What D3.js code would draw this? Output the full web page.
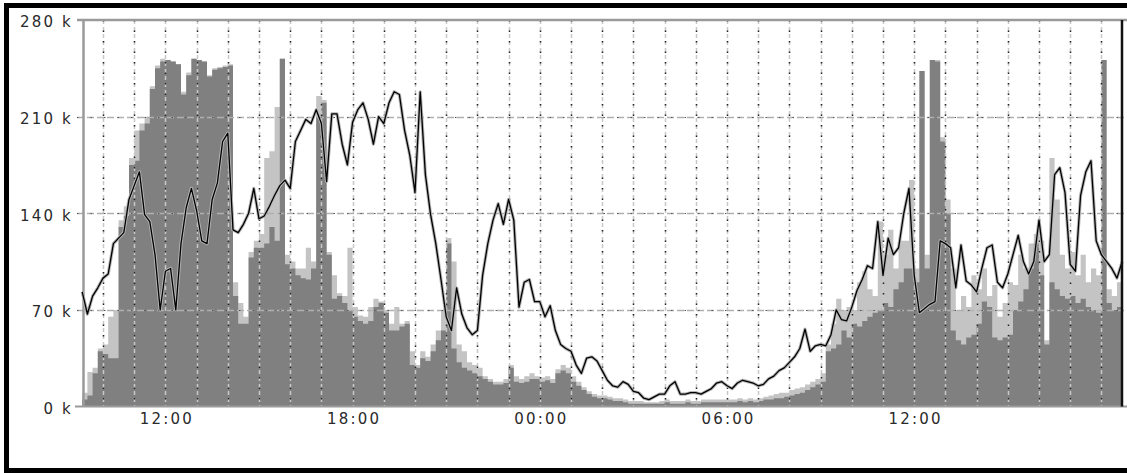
<!DOCTYPE html>
<html>
<head>
<meta charset="utf-8">
<script src="https://cdn.jsdelivr.net/npm/d3@7"></script>
<style>
  html, body { margin: 0; padding: 0; background: #fff; }
  svg { display: block; }
</style>
</head>
<body>
<svg id="chart" width="1127" height="473"></svg>
<script>
// 10-minute samples, starting 09:20 on the first day
const startTime = new Date(2000, 0, 1, 9, 20);
const stepMinutes = 10;

// incoming traffic (k), average per sample
const inTraffic = [
  5, 8, 24, 40, 38, 35, 35, 130, 138, 175,
  178, 200, 205, 230, 245, 250, 251, 250, 248, 226,
  240, 252, 251, 250, 239, 244, 245, 246, 247, 80,
  60, 60, 108, 115, 115, 118, 130, 120, 252, 103,
  100, 95, 93, 92, 100, 210, 220, 110, 78, 80,
  75, 70, 65, 62, 60, 62, 72, 75, 68, 55,
  55, 58, 60, 30, 28, 35, 33, 40, 48, 55,
  118, 42, 32, 28, 26, 24, 22, 20, 18, 16,
  16, 17, 28, 18, 17, 18, 20, 20, 18, 19,
  17, 24, 26, 24, 18, 15, 12, 9, 7, 6,
  6, 5, 4, 4, 3, 2, 2, 2, 2, 2,
  2, 2, 3, 2, 2, 2, 3, 2, 2, 3,
  3, 3, 3, 3, 3, 3, 4, 3, 4, 3,
  4, 5, 5, 6, 6, 7, 8, 9, 10, 12,
  14, 16, 18, 40, 42, 45, 55, 50, 60, 58,
  62, 65, 68, 70, 75, 72, 85, 90, 100, 100,
  90, 243, 100, 251, 250, 192, 140, 55, 48, 45,
  50, 52, 60, 76, 72, 50, 48, 50, 52, 70,
  76, 85, 100, 118, 95, 45, 90, 85, 80, 78,
  80, 75, 78, 72, 70, 68, 251, 75, 70, 72,
  50
];

// incoming traffic (k), peak per sample
const inPeak = [
  10, 25, 28, 42, 45, 65, 70, 135, 145, 180,
  200, 205, 210, 232, 247, 252, 251, 250, 248, 228,
  242, 252, 251, 250, 240, 245, 246, 247, 248, 90,
  75, 65, 112, 120, 125, 180, 185, 217, 252, 110,
  105, 100, 100, 115, 105, 225, 222, 112, 95, 82,
  80, 115, 72, 66, 65, 72, 78, 76, 70, 60,
  72, 60, 62, 40, 30, 40, 36, 45, 55, 70,
  122, 105, 45, 40, 32, 30, 28, 22, 20, 18,
  18, 20, 30, 22, 20, 22, 24, 22, 21, 22,
  20, 27, 30, 28, 22, 18, 14, 11, 9, 8,
  8, 7, 6, 6, 5, 4, 4, 4, 3, 3,
  3, 4, 5, 4, 4, 4, 5, 4, 4, 5,
  5, 5, 5, 5, 5, 5, 6, 5, 6, 5,
  6, 7, 8, 9, 10, 10, 12, 13, 14, 16,
  18, 20, 24, 45, 60, 78, 70, 72, 70, 90,
  98, 85, 80, 134, 110, 128, 100, 120, 120, 164,
  100, 243, 110, 251, 251, 195, 150, 100, 70, 80,
  72, 95, 85, 100, 80, 88, 65, 75, 90, 88,
  110, 100, 118, 125, 120, 48, 180, 150, 110, 100,
  112, 95, 110, 90, 100, 95, 251, 85, 80, 90,
  134
];

// outgoing traffic (k)
const outTraffic = [
  83, 67, 80, 86, 93, 96, 118, 122, 126, 150,
  160, 170, 139, 134, 110, 70, 98, 100, 70, 118,
  144, 158, 142, 120, 118, 150, 162, 192, 198, 128,
  126, 132, 140, 158, 136, 138, 145, 153, 160, 164,
  158, 192, 200, 208, 205, 215, 205, 163, 212, 212,
  190, 175, 206, 215, 220, 208, 190, 210, 205, 220,
  228, 226, 200, 182, 155, 228, 168, 139, 118, 92,
  65, 55, 86, 67, 57, 52, 55, 95, 118, 135,
  147, 132, 150, 135, 72, 90, 92, 76, 76, 65,
  73, 55, 45, 42, 40, 30, 24, 35, 36, 33,
  26, 19, 15, 14, 18, 16, 11, 10, 6, 5,
  7, 9, 9, 15, 18, 9, 9, 10, 10, 9,
  11, 13, 17, 18, 15, 13, 17, 19, 18, 17,
  15, 16, 20, 22, 26, 28, 32, 36, 42, 56,
  40, 44, 45, 44, 52, 70, 63, 62, 72, 84,
  92, 102, 100, 134, 95, 122, 110, 115, 140, 158,
  95, 68, 71, 74, 76, 120, 118, 115, 86, 117,
  91, 88, 83, 100, 115, 117, 90, 86, 96, 110,
  124, 105, 96, 105, 135, 105, 110, 168, 173, 155,
  103, 98, 153, 170, 178, 120, 110, 105, 100, 93,
  105
];

const yTickValues = [0, 70, 140, 210, 280];
const yTickLabels = ["0 k", "70 k", "140 k", "210 k", "280 k"];
const xTickHours = [12, 18, 24, 30, 36];          // hours after midnight of day one
const xTickLabels = ["12:00", "18:00", "00:00", "06:00", "12:00"];

const timeAt = i => new Date(startTime.getTime() + i * stepMinutes * 60000);
const rows = inTraffic.map((v, i) => ({
  t: timeAt(i), inAvg: v, inMax: inPeak[i], out: outTraffic[i]
}));

const svg = d3.select("#chart");
const plotLeft = 82.2, plotRight = 1122.2, plotTop = 20, plotBottom = 406.5;

const x = d3.scaleTime()
  .domain([rows[0].t, rows[rows.length - 1].t])
  .range([plotLeft, plotRight]);
const y = d3.scaleLinear().domain([0, 280]).range([plotBottom, plotTop]);

const fontFamily = "'DejaVu Sans', 'Liberation Sans', sans-serif";

// background
svg.append("rect").attr("width", 1127).attr("height", 473).attr("fill", "#fff");

// traffic areas
const areaOf = key => d3.area()
  .x(d => x(d.t)).y0(y(0)).y1(d => y(d[key]))
  .curve(d3.curveStepAfter);

svg.append("path").datum(rows)
  .attr("d", areaOf("inMax")).attr("fill", "#c4c4c4");
svg.append("path").datum(rows)
  .attr("d", areaOf("inAvg")).attr("fill", "#808080");

// grid: hourly verticals and value horizontals
const grid = svg.append("g");
const hours = d3.timeHour.every(1).range(rows[0].t, rows[rows.length - 1].t);
hours.forEach(h => {
  const gx = Math.round(x(h)) + 0.5;
  grid.append("line").attr("x1", gx).attr("x2", gx).attr("y1", plotTop).attr("y2", plotBottom)
    .attr("stroke", "#c8c8c8").attr("stroke-width", 1.5).attr("stroke-dasharray", "4,3");
  grid.append("line").attr("x1", gx).attr("x2", gx).attr("y1", plotTop).attr("y2", plotBottom)
    .attr("stroke", "#222").attr("stroke-width", 1.5).attr("stroke-dasharray", "1.5,9");
});
yTickValues.slice(1, -1).forEach(v => {
  const gy = Math.round(y(v)) + 0.5;
  grid.append("line").attr("x1", 77).attr("x2", 1127).attr("y1", gy).attr("y2", gy)
    .attr("stroke", "#b0b0b0").attr("stroke-width", 1.5).attr("stroke-dasharray", "7,3");
  grid.append("line").attr("x1", 77).attr("x2", 1127).attr("y1", gy).attr("y2", gy)
    .attr("stroke", "#555").attr("stroke-width", 1.2).attr("stroke-dasharray", "1.5,12");
});

// frame lines of the plot
svg.append("line").attr("x1", 77).attr("x2", 1127).attr("y1", y(280)).attr("y2", y(280))
  .attr("stroke", "#9a9a9a").attr("stroke-width", 2.5);
svg.append("line").attr("x1", 75).attr("x2", 1127).attr("y1", y(0)).attr("y2", y(0))
  .attr("stroke", "#9a9a9a").attr("stroke-width", 2);
svg.append("line").attr("x1", 83.5).attr("x2", 83.5).attr("y1", y(280)).attr("y2", y(0))
  .attr("stroke", "#9a9a9a").attr("stroke-width", 2.5);

// outgoing traffic line
const outLine = d3.line().x(d => x(d.t)).y(d => y(d.out));
svg.append("path").datum(rows).attr("d", outLine)
  .attr("fill", "none").attr("stroke", "#b4b4b4").attr("stroke-width", 3.2)
  .attr("stroke-linejoin", "round");
svg.append("path").datum(rows).attr("d", outLine)
  .attr("fill", "none").attr("stroke", "#000").attr("stroke-width", 1.3)
  .attr("stroke-linejoin", "round");

// current-time marker
svg.append("line").attr("x1", 1122).attr("x2", 1122).attr("y1", y(280)).attr("y2", y(0))
  .attr("stroke", "#111").attr("stroke-width", 2.5);

// y axis labels
const yAxis = d3.axisLeft(y).tickValues(yTickValues)
  .tickFormat((d, i) => yTickLabels[i]).tickSize(0).tickPadding(0);
const yg = svg.append("g").attr("transform", "translate(73,2)").call(yAxis);
yg.select(".domain").remove();
yg.selectAll("text")
  .attr("font-family", fontFamily).attr("font-size", 15)
  .attr("letter-spacing", "2.2px").attr("fill", "#2a2a2a");

// x axis labels
const xAxis = d3.axisBottom(x)
  .tickValues(xTickHours.map(h => new Date(2000, 0, 1, h)))
  .tickFormat((d, i) => xTickLabels[i]).tickSize(0).tickPadding(0);
const xg = svg.append("g").attr("transform", "translate(1,413)").call(xAxis);
xg.select(".domain").remove();
xg.selectAll("text")
  .attr("font-family", fontFamily).attr("font-size", 15)
  .attr("letter-spacing", "2.2px").attr("fill", "#2a2a2a");

// outer border
svg.append("rect").attr("x", 6.5).attr("y", 5.5).attr("width", 1140).attr("height", 465)
  .attr("fill", "none").attr("stroke", "#000").attr("stroke-width", 5);
</script>
</body>
</html>
